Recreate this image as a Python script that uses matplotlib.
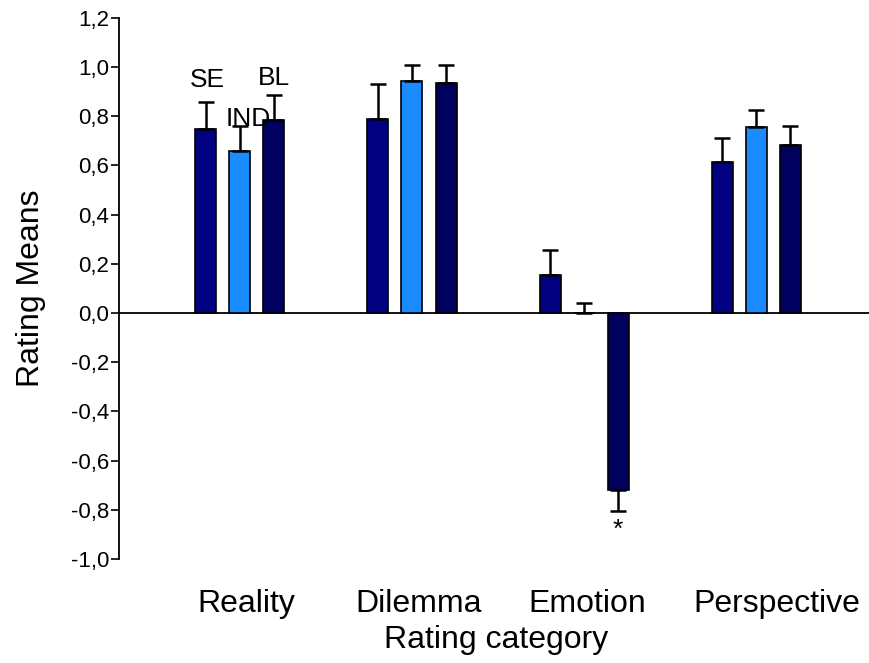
import numpy as np
import matplotlib.pyplot as plt
from matplotlib.ticker import FuncFormatter

plt.rcParams['font.family'] = ['Liberation Sans', 'DejaVu Sans']

categories = ['Reality', 'Dilemma', 'Emotion', 'Perspective']
series = ['SE', 'IND', 'BL']
se_means = [0.75, 0.79, 0.155, 0.615]
se_err = [0.11, 0.14, 0.10, 0.095]
ind_means = [0.66, 0.945, 0.0, 0.755]
ind_err = [0.10, 0.065, 0.04, 0.07]
bl_means = [0.785, 0.935, -0.72, 0.685]
bl_err = [0.10, 0.075, 0.085, 0.075]
colors = ['#000080', '#1a8cff', '#00005e']

fig = plt.figure(figsize=(8.7, 6.63), dpi=100)
ax = fig.add_axes([0.137, 0.157, 0.863, 0.816])

x = np.arange(len(categories))
width = 0.122
step = 0.198

for i, (means, errs) in enumerate([(se_means, se_err), (ind_means, ind_err), (bl_means, bl_err)]):
    m = np.array(means)
    e = np.array(errs)
    lower = np.where(m < 0, e, 0)
    upper = np.where(m >= 0, e, 0)
    pos = x + (i - 1) * step
    ax.bar(pos, m, width, color=colors[i], edgecolor='black', linewidth=1.2, zorder=2)
    ax.errorbar(pos, m, yerr=[lower, upper], fmt='none', ecolor='black',
                elinewidth=1.8, capsize=6, capthick=1.8, zorder=3)

# series labels over the first group
ax.text(x[0] - step + 0.01, se_means[0] + se_err[0] + 0.04, 'SE', ha='center', va='bottom', fontsize=19)
ax.text(x[0] + 0.05, ind_means[0] + ind_err[0] - 0.02, 'IND', ha='center', va='bottom', fontsize=19)
ax.text(x[0] + step + 0.0, bl_means[0] + bl_err[0] + 0.02, 'BL', ha='center', va='bottom', fontsize=19)
ax.text(x[2] + step, bl_means[2] - bl_err[2] - 0.03, '*', ha='center', va='top', fontsize=19)

ax.axhline(0, color='black', linewidth=1.3, zorder=1)
ax.set_ylim(-1.0, 1.2)
ax.set_xlim(-0.70, 3.66)
ax.set_yticks(np.arange(-1.0, 1.21, 0.2))
ax.yaxis.set_major_formatter(FuncFormatter(lambda v, p: f'{v:.1f}'.replace('.', ',').replace('-0,0', '0,0')))
ax.tick_params(axis='y', direction='out', length=6, width=1.2, labelsize=16, pad=1)
label_shift = [0.04, 0.04, 0.02, 0.12]
ax.set_xticks(x + np.array(label_shift))
ax.set_xticklabels(categories, fontsize=23)
ax.tick_params(axis='x', length=0, pad=22)

for s in ['top', 'right', 'bottom']:
    ax.spines[s].set_visible(False)
ax.spines['left'].set_linewidth(1.3)

ax.set_xlabel('Rating category', fontsize=23)
ax.xaxis.set_label_coords(0.502, -0.122)
ax.set_ylabel('Rating Means', fontsize=23)
ax.yaxis.set_label_coords(-0.098, 0.5)

fig.savefig('out.png', dpi=100)
